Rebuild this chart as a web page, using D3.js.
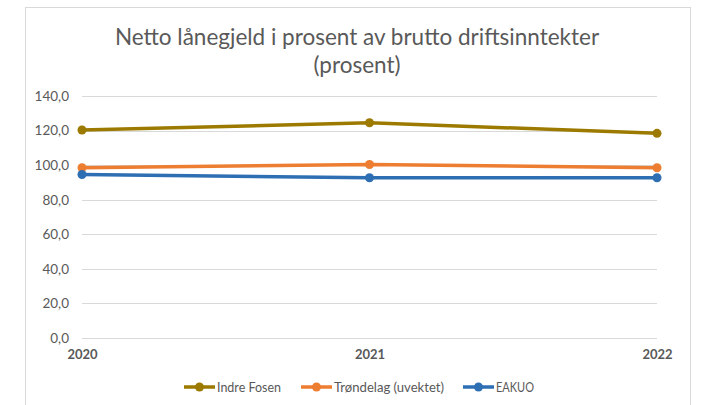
<!DOCTYPE html>
<html>
<head>
<meta charset="utf-8">
<script src="https://cdn.jsdelivr.net/npm/d3@7"></script>
<style>
  html, body { margin: 0; padding: 0; background: #fff; }
  svg { display: block; font-family: Lato, "Open Sans", "Noto Sans", sans-serif; }
</style>
</head>
<body>
<svg id="chart" width="703" height="405"></svg>
<script>
// Netto lånegjeld i prosent av brutto driftsinntekter, 2020–2022
const years = ["2020", "2021", "2022"];
const indreFosen = [120.3, 124.5, 118.4];
const trondelag = [98.5, 100.4, 98.5];
const eakuo = [94.6, 92.7, 92.7];
const yTicks = [0, 20, 40, 60, 80, 100, 120, 140];

const seriesNames = ["Indre Fosen", "Trøndelag (uvektet)", "EAKUO"];
const seriesColors = ["#9c7a00", "#ed7d31", "#2e6fb3"];
const series = [indreFosen, trondelag, eakuo].map((vals, i) => ({
  name: seriesNames[i],
  color: seriesColors[i],
  values: vals.map((v, j) => ({ year: years[j], value: v }))
}));

const svg = d3.select("#chart");

// Chart frame
svg.append("rect")
  .attr("x", 25.5).attr("y", 7.5)
  .attr("width", 665).attr("height", 420)
  .attr("fill", "#fff")
  .attr("stroke", "#d9d9d9")
  .attr("stroke-width", 1);

// Title
const title = svg.append("text")
  .attr("text-anchor", "middle")
  .attr("fill", "#595959")
  .attr("font-size", 22.5);
title.append("tspan").attr("x", 357).attr("y", 45).text("Netto lånegjeld i prosent av brutto driftsinntekter");
title.append("tspan").attr("x", 357).attr("y", 73).text("(prosent)");

const x = d3.scalePoint().domain(years).range([82, 657]);
const y = d3.scaleLinear().domain([0, 140]).range([338, 96]);

// Horizontal gridlines
svg.append("g")
  .selectAll("line")
  .data(yTicks)
  .join("line")
  .attr("x1", 82).attr("x2", 657)
  .attr("y1", d => Math.round(y(d)) + 0.5)
  .attr("y2", d => Math.round(y(d)) + 0.5)
  .attr("stroke", "#d9d9d9")
  .attr("stroke-width", 1);

// Y axis labels
const yAxis = d3.axisLeft(y)
  .tickValues(yTicks)
  .tickSize(0)
  .tickPadding(0)
  .tickFormat(d => d3.format(".1f")(d).replace(".", ","));
svg.append("g")
  .attr("transform", "translate(69,0)")
  .call(yAxis)
  .call(g => g.select(".domain").remove())
  .call(g => g.selectAll("text")
    .attr("fill", "#595959")
    .attr("font-size", 13.5)
    .attr("font-family", "Lato, 'Open Sans', sans-serif"));

// X axis labels
const xAxis = d3.axisBottom(x).tickSize(0).tickPadding(0);
svg.append("g")
  .attr("transform", "translate(0,350)")
  .call(xAxis)
  .call(g => g.select(".domain").remove())
  .call(g => g.selectAll("text")
    .attr("fill", "#595959")
    .attr("font-size", 13)
    .attr("font-weight", "bold")
    .attr("font-family", "Lato, 'Open Sans', sans-serif"));

// Lines and markers
const line = d3.line().x(d => x(d.year)).y(d => y(d.value));
const sg = svg.append("g").selectAll("g").data(series).join("g");
sg.append("path")
  .attr("d", d => line(d.values))
  .attr("fill", "none")
  .attr("stroke", d => d.color)
  .attr("stroke-width", 3.5)
  .attr("stroke-linejoin", "round");
sg.selectAll("circle")
  .data(d => d.values.map(v => ({ ...v, color: d.color })))
  .join("circle")
  .attr("cx", d => x(d.year))
  .attr("cy", d => y(d.value))
  .attr("r", 4.5)
  .attr("fill", d => d.color);

// Legend
const legendX = [184, 301, 463];
const legendTextW = [64, 110, 38];
const lg = svg.append("g").selectAll("g").data(series).join("g")
  .attr("transform", (d, i) => `translate(${legendX[i]},387)`);
lg.append("line")
  .attr("x1", 0).attr("x2", 31).attr("y1", 0).attr("y2", 0)
  .attr("stroke", d => d.color).attr("stroke-width", 3.5);
lg.append("circle").attr("cx", 15.5).attr("cy", 0).attr("r", 4.5).attr("fill", d => d.color);
lg.append("text")
  .attr("x", 33).attr("y", 4.5)
  .attr("fill", "#595959")
  .attr("font-size", 12.5)
  .attr("textLength", (d, i) => legendTextW[i])
  .attr("lengthAdjust", "spacingAndGlyphs")
  .text(d => d.name);
</script>
</body>
</html>
